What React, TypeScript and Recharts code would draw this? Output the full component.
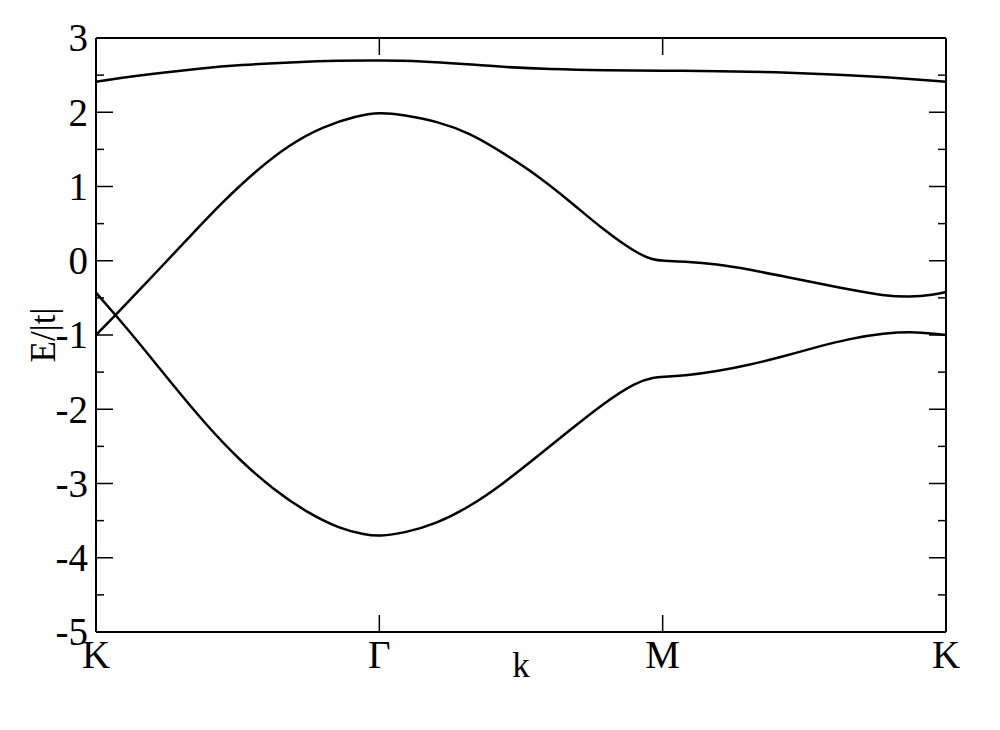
import React from 'react';
import { LineChart, Line, XAxis, YAxis } from 'recharts';

const kTickValues = [0, 1, 2, 3];
const kTickLabels = ['K', 'Γ', 'M', 'K'];
const yTicks = [-5, -4.5, -4, -3.5, -3, -2.5, -2, -1.5, -1, -0.5, 0, 0.5, 1, 1.5, 2, 2.5, 3];
const xAxisTitle = 'k';
const yAxisTitle = 'E/|t|';

const bandTopK = [0, 0.1, 0.2, 0.37, 0.5, 0.72, 0.85, 1.0, 1.15, 1.3, 1.43, 1.6, 1.8, 2.0, 2.2, 2.4, 2.6, 2.8, 3.0];
const bandTopE = [2.41, 2.47, 2.52, 2.59, 2.635, 2.68, 2.695, 2.7, 2.69, 2.65, 2.61, 2.58, 2.565, 2.56, 2.555, 2.54, 2.51, 2.47, 2.41];

const bandMidK = [0, 0.067, 0.214, 0.332, 0.449, 0.567, 0.685, 0.802, 0.92, 1.0, 1.085, 1.203, 1.32, 1.438, 1.556, 1.673, 1.791, 1.908, 1.967, 2.0, 2.073, 2.191, 2.308, 2.426, 2.544, 2.661, 2.779, 2.873, 2.956, 3.0];
const bandMidE = [-1.0, -0.74, -0.15, 0.33, 0.8, 1.22, 1.57, 1.81, 1.95, 2.0, 1.965, 1.88, 1.72, 1.45, 1.155, 0.8, 0.415, 0.1, 0.01, 0.0, -0.01, -0.045, -0.12, -0.21, -0.3, -0.39, -0.47, -0.49, -0.46, -0.42];

const bandLowK = [0, 0.073, 0.155, 0.273, 0.391, 0.508, 0.626, 0.744, 0.861, 0.95, 1.0, 1.085, 1.203, 1.32, 1.438, 1.556, 1.673, 1.791, 1.908, 1.97, 2.0, 2.073, 2.191, 2.308, 2.426, 2.544, 2.661, 2.779, 2.897, 3.0];
const bandLowE = [-0.43, -0.75, -1.12, -1.68, -2.22, -2.69, -3.08, -3.39, -3.61, -3.69, -3.71, -3.67, -3.54, -3.31, -3.0, -2.64, -2.28, -1.92, -1.63, -1.57, -1.565, -1.55, -1.49, -1.4, -1.29, -1.16, -1.05, -0.975, -0.955, -1.0];

const toRows = (ks: number[], es: number[]) => ks.map((k, i) => ({ k, e: es[i] }));

const FONT = "'Liberation Serif', 'Times New Roman', serif";
const TICK_FS = 39;
const TITLE_FS = 35;
const MAJOR = 17;
const MINOR = 8;

const W = 1000;
const H = 730;
const M = { top: 37, right: 53, bottom: 97, left: 95 };
const plotLeft = M.left + 1;
const plotRight = W - M.right - 1;
const plotTop = M.top + 1;
const plotBottom = H - M.bottom - 1;

const LeftTick = (props: any) => {
  const { x, y, payload } = props;
  const v = payload.value;
  const major = Number.isInteger(v);
  return (
    <g>
      <line x1={x} y1={y} x2={x + (major ? MAJOR : MINOR)} y2={y} stroke="#000" strokeWidth={1.5} />
      {major && (
        <text x={x - 8} y={y + 0.34 * TICK_FS} textAnchor="end" fontSize={TICK_FS} fontFamily={FONT} fill="#000">
          {String(v)}
        </text>
      )}
    </g>
  );
};

const RightTick = (props: any) => {
  const { x, y, payload } = props;
  const major = Number.isInteger(payload.value);
  return <line x1={x} y1={y} x2={x - (major ? MAJOR : MINOR)} y2={y} stroke="#000" strokeWidth={1.5} />;
};

const BottomTick = (props: any) => {
  const { x, y, payload } = props;
  const idx = kTickValues.indexOf(payload.value);
  return (
    <g>
      <line x1={x} y1={y} x2={x} y2={y - MAJOR} stroke="#000" strokeWidth={1.5} />
      <text x={x} y={y + 36} textAnchor="middle" fontSize={TICK_FS} fontFamily={FONT} fill="#000">
        {kTickLabels[idx]}
      </text>
    </g>
  );
};

const TopTick = (props: any) => {
  const { x, y } = props;
  return <line x1={x} y1={y} x2={x} y2={y + MAJOR} stroke="#000" strokeWidth={1.5} />;
};

const ycx = 55;
const ycy = (plotTop + plotBottom) / 2;

export default function App() {
  return (
    <div style={{ position: 'absolute', left: 0, top: 0, width: W, height: H, background: '#fff' }}>
      <LineChart width={W} height={H} margin={M}>
        <XAxis
          xAxisId="b"
          dataKey="k"
          type="number"
          domain={[0, 3]}
          ticks={kTickValues}
          interval={0}
          height={1}
          tickSize={0}
          tickMargin={0}
          tickLine={false}
          axisLine={{ stroke: '#000', strokeWidth: 2 }}
          tick={<BottomTick />}
          allowDataOverflow
        />
        <XAxis
          xAxisId="t"
          orientation="top"
          dataKey="k"
          type="number"
          domain={[0, 3]}
          ticks={kTickValues}
          interval={0}
          height={1}
          tickSize={0}
          tickMargin={0}
          tickLine={false}
          axisLine={{ stroke: '#000', strokeWidth: 2 }}
          tick={<TopTick />}
          allowDataOverflow
        />
        <YAxis
          yAxisId="l"
          type="number"
          domain={[-5, 3]}
          ticks={yTicks}
          interval={0}
          width={1}
          tickSize={0}
          tickMargin={0}
          tickLine={false}
          axisLine={{ stroke: '#000', strokeWidth: 2 }}
          tick={<LeftTick />}
          allowDataOverflow
        />
        <YAxis
          yAxisId="r"
          orientation="right"
          type="number"
          domain={[-5, 3]}
          ticks={yTicks}
          interval={0}
          width={1}
          tickSize={0}
          tickMargin={0}
          tickLine={false}
          axisLine={{ stroke: '#000', strokeWidth: 2 }}
          tick={<RightTick />}
          allowDataOverflow
        />
        <Line xAxisId="b" yAxisId="l" data={toRows(bandTopK, bandTopE)} dataKey="e" type="basis" stroke="#000" strokeWidth={2.5} dot={false} isAnimationActive={false} />
        <Line xAxisId="b" yAxisId="l" data={toRows(bandMidK, bandMidE)} dataKey="e" type="basis" stroke="#000" strokeWidth={2.5} dot={false} isAnimationActive={false} />
        <Line xAxisId="b" yAxisId="l" data={toRows(bandLowK, bandLowE)} dataKey="e" type="basis" stroke="#000" strokeWidth={2.5} dot={false} isAnimationActive={false} />
        <Line xAxisId="t" yAxisId="r" data={toRows(bandTopK, bandTopE)} dataKey="e" type="basis" stroke="none" strokeWidth={0} dot={false} isAnimationActive={false} />
        <text x={(plotLeft + plotRight) / 2} y={plotBottom + 45} textAnchor="middle" fontSize={TITLE_FS} fontFamily={FONT} fill="#000">
          {xAxisTitle}
        </text>
        <text x={ycx} y={ycy} transform={`rotate(-90 ${ycx} ${ycy})`} textAnchor="middle" fontSize={TITLE_FS} fontFamily={FONT} fill="#000">
          {yAxisTitle}
        </text>
      </LineChart>
    </div>
  );
}
